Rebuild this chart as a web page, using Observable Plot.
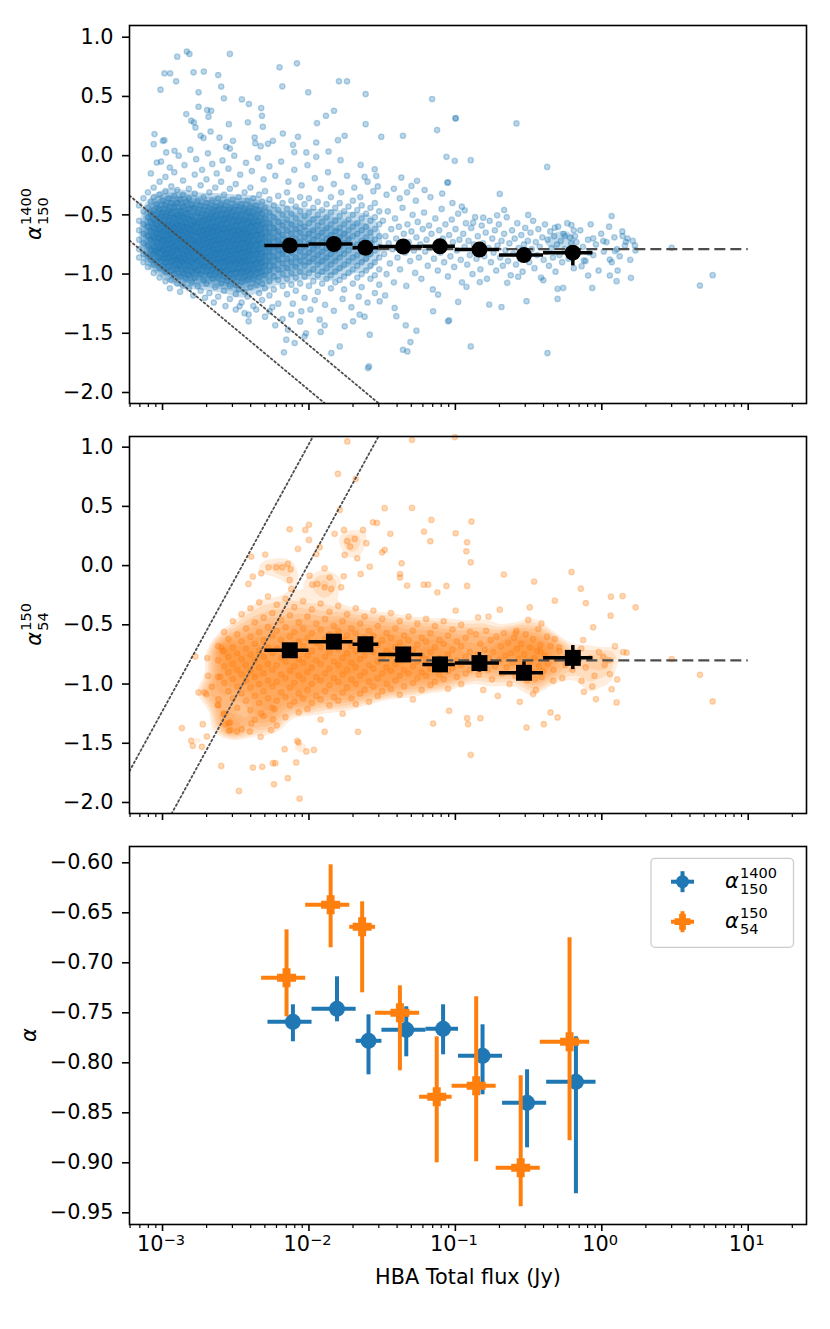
<!DOCTYPE html>
<html><head><meta charset="utf-8">
<script src="https://cdn.jsdelivr.net/npm/d3@7"></script>
<script src="https://cdn.jsdelivr.net/npm/@observablehq/plot@0.6"></script>
<style>
body{margin:0;background:#fff;}
#chart{width:830px;}
#chart svg{display:block;}
</style></head><body><div id="chart"></div>
<script>
// ---------------- DATA ----------------
// binned medians (HBA total flux in Jy)
const binCentre = [0.0074, 0.0148, 0.0243, 0.044, 0.0785, 0.146, 0.294, 0.634];
const binLow    = [0.005, 0.01, 0.02, 0.03, 0.06, 0.1, 0.2, 0.4];
const binHigh   = [0.01, 0.02, 0.03, 0.06, 0.1, 0.2, 0.4, 0.87];
const alpha1400   = [-0.759, -0.746, -0.778, -0.767, -0.766, -0.793, -0.840, -0.819];
const alpha1400Lo = [-0.779, -0.759, -0.812, -0.794, -0.792, -0.832, -0.885, -0.931];
const alpha1400Hi = [-0.742, -0.714, -0.752, -0.744, -0.742, -0.762, -0.807, -0.774];
const alpha150    = [-0.715, -0.642, -0.664, -0.750, -0.834, -0.823, -0.905, -0.779];
const alpha150Lo  = [-0.754, -0.685, -0.730, -0.808, -0.900, -0.899, -0.944, -0.878];
const alpha150Hi  = [-0.667, -0.602, -0.639, -0.723, -0.774, -0.734, -0.813, -0.675];
const medianAlpha1400 = -0.79, medianAlpha150 = -0.80;
const medianFluxRange = [0.03, 10];
const limits1400 = [0.00028, 0.00012];   // Jy at 1400 MHz
const limits54 = [0.0035, 0.0098];       // Jy at 54 MHz
const majorTicks = [1e-3, 1e-2, 1e-1, 1, 10];
const majorExp = ["−3", "−2", "−1", "0", "1"];
const yTicksTop = [-2.0, -1.5, -1.0, -0.5, 0.0, 0.5, 1.0];
const yTicksBottom = [-0.95, -0.90, -0.85, -0.80, -0.75, -0.70, -0.65, -0.60];

// scatter alpha_150^1400 : rows [log10 S, alphas...]
const blueRows = [
[-3.16,[-0.42,-0.55,-0.63,-0.71,-0.79,-0.86]],
[-3.13,[-0.36,-0.47,-0.58,-0.66,-0.74,-0.83,-0.90]],
[-3.10,[-0.31,-0.44,-0.52,-0.60,-0.68,-0.76,-0.85,-0.94]],
[-3.08,[-0.39,-0.49,-0.56,-0.64,-0.71,-0.80,-0.88]],
[-3.06,[-0.27,-0.35,-0.46,-0.54,-0.61,-0.69,-0.77,-0.83,-0.92,-0.99]],
[-3.04,[-0.41,-0.50,-0.58,-0.66,-0.73,-0.81,-0.89]],
[-3.02,[-0.22,-0.33,-0.45,-0.53,-0.62,-0.70,-0.78,-0.86,-0.95,-1.03]],
[-3.00,[-0.38,-0.48,-0.57,-0.64,-0.72,-0.80,-0.87,-0.93]],
[-2.98,[-0.18,-0.30,-0.42,-0.51,-0.59,-0.68,-0.75,-0.83,-0.90,-0.98,-1.06]],
[-2.96,[-0.36,-0.46,-0.55,-0.63,-0.71,-0.79,-0.86,-0.94]],
[-2.94,[-0.26,-0.40,-0.49,-0.58,-0.66,-0.74,-0.82,-0.89,-0.97,-1.05]],
[-2.92,[-0.14,-0.34,-0.44,-0.53,-0.61,-0.69,-0.77,-0.85,-0.92,-1.00]],
[-2.90,[-0.29,-0.40,-0.50,-0.58,-0.65,-0.73,-0.80,-0.88,-0.96,-1.08]],
[-2.88,[-0.37,-0.47,-0.55,-0.63,-0.70,-0.78,-0.86,-0.93,-1.02]],
[-2.86,[-0.21,-0.33,-0.43,-0.52,-0.60,-0.67,-0.75,-0.83,-0.90,-0.99,-1.10]],
[-2.84,[-0.39,-0.49,-0.57,-0.65,-0.72,-0.80,-0.88,-0.96,-1.04]],
[-2.82,[-0.28,-0.36,-0.45,-0.54,-0.62,-0.70,-0.77,-0.85,-0.93,-1.01,-1.12]],
[-2.80,[-0.41,-0.51,-0.59,-0.67,-0.75,-0.82,-0.90,-0.98,-1.07]],
[-2.78,[-0.16,-0.32,-0.44,-0.56,-0.64,-0.72,-0.79,-0.87,-0.95,-1.03]],
[-2.76,[-0.38,-0.48,-0.57,-0.65,-0.73,-0.81,-0.89,-0.97,-1.10]],
[-2.74,[-0.25,-0.42,-0.52,-0.60,-0.68,-0.76,-0.84,-0.92,-1.00,-1.14]],
[-2.72,[-0.35,-0.46,-0.55,-0.63,-0.71,-0.79,-0.86,-0.94,-1.05]],
[-2.70,[-0.20,-0.40,-0.50,-0.58,-0.66,-0.74,-0.82,-0.90,-0.98,-1.08]],
[-2.68,[-0.31,-0.44,-0.53,-0.61,-0.69,-0.77,-0.85,-0.93,-1.01,-1.16]],
[-2.66,[-0.38,-0.48,-0.56,-0.64,-0.72,-0.80,-0.88,-0.96,-1.04]],
[-2.64,[-0.27,-0.43,-0.51,-0.60,-0.68,-0.75,-0.83,-0.91,-0.99,-1.11]],
[-2.62,[-0.36,-0.46,-0.55,-0.63,-0.71,-0.79,-0.87,-0.95,-1.03,-1.19]],
[-2.60,[-0.22,-0.41,-0.50,-0.58,-0.66,-0.74,-0.82,-0.90,-0.98,-1.08]],
[-2.58,[-0.33,-0.45,-0.54,-0.62,-0.70,-0.78,-0.86,-0.94,-1.02,-1.14]],
[-2.56,[-0.39,-0.49,-0.57,-0.65,-0.73,-0.81,-0.89,-0.97,-1.06]],
[-2.54,[-0.28,-0.44,-0.52,-0.61,-0.69,-0.77,-0.84,-0.92,-1.00,-1.10,-1.21]],
[-2.52,[-0.37,-0.47,-0.56,-0.64,-0.72,-0.80,-0.88,-0.96,-1.04]],
[-2.50,[-0.24,-0.42,-0.51,-0.59,-0.67,-0.75,-0.83,-0.91,-0.99,-1.09,-1.17]],
[-2.48,[-0.35,-0.46,-0.55,-0.63,-0.71,-0.79,-0.87,-0.95,-1.03,-1.13]],
[-2.46,[-0.41,-0.50,-0.58,-0.66,-0.74,-0.82,-0.90,-0.98,-1.07,-1.24]],
[-2.44,[-0.31,-0.45,-0.54,-0.62,-0.70,-0.78,-0.86,-0.94,-1.02,-1.15]],
[-2.42,[-0.38,-0.48,-0.57,-0.65,-0.73,-0.81,-0.89,-0.97,-1.05,-1.19]],
[-2.40,[-0.27,-0.43,-0.52,-0.60,-0.68,-0.76,-0.84,-0.92,-1.00,-1.11]],
[-2.38,[-0.36,-0.47,-0.56,-0.64,-0.72,-0.80,-0.88,-0.96,-1.04,-1.27]],
[-2.36,[-0.42,-0.51,-0.59,-0.67,-0.75,-0.83,-0.91,-0.99,-1.09]],
[-2.34,[-0.33,-0.46,-0.55,-0.63,-0.71,-0.79,-0.87,-0.95,-1.03,-1.16]],
[-2.32,[-0.39,-0.49,-0.58,-0.66,-0.74,-0.82,-0.90,-0.98,-1.08,-1.22]],
[-2.30,[-0.30,-0.44,-0.53,-0.61,-0.69,-0.77,-0.85,-0.93,-1.01,-1.12]],
[-2.27,[-0.37,-0.48,-0.57,-0.65,-0.73,-0.81,-0.89,-0.97,-1.06,-1.18]],
[-2.24,[-0.42,-0.52,-0.61,-0.69,-0.77,-0.85,-0.93,-1.02,-1.13]],
[-2.21,[-0.34,-0.46,-0.56,-0.64,-0.72,-0.80,-0.88,-0.96,-1.05,-1.25]],
[-2.18,[-0.40,-0.50,-0.59,-0.67,-0.75,-0.83,-0.91,-1.00,-1.10]],
[-2.15,[-0.31,-0.45,-0.54,-0.63,-0.71,-0.79,-0.87,-0.95,-1.04,-1.17]],
[-2.12,[-0.38,-0.49,-0.58,-0.66,-0.74,-0.82,-0.90,-0.99,-1.09]],
[-2.09,[-0.43,-0.53,-0.62,-0.70,-0.78,-0.86,-0.94,-1.03,-1.14]],
[-2.06,[-0.35,-0.47,-0.57,-0.65,-0.73,-0.81,-0.89,-0.98,-1.08]],
[-2.03,[-0.41,-0.51,-0.60,-0.69,-0.77,-0.85,-0.93,-1.02,-1.20]],
[-2.00,[-0.36,-0.48,-0.57,-0.66,-0.74,-0.82,-0.90,-0.99,-1.10]],
[-1.97,[-0.44,-0.54,-0.63,-0.71,-0.79,-0.87,-0.96,-1.06]],
[-1.94,[-0.39,-0.50,-0.59,-0.68,-0.76,-0.84,-0.92,-1.01,-1.15]],
[-1.91,[-0.46,-0.56,-0.65,-0.73,-0.81,-0.89,-0.98,-1.08]],
[-1.88,[-0.41,-0.52,-0.61,-0.70,-0.78,-0.86,-0.95,-1.04]],
[-1.85,[-0.35,-0.48,-0.58,-0.67,-0.75,-0.83,-0.92,-1.01,-1.12]],
[-1.82,[-0.44,-0.55,-0.64,-0.72,-0.80,-0.89,-0.98,-1.07]],
[-1.79,[-0.40,-0.51,-0.61,-0.69,-0.77,-0.86,-0.95,-1.05]],
[-1.76,[-0.47,-0.58,-0.66,-0.74,-0.83,-0.92,-1.02,-1.13]],
[-1.73,[-0.43,-0.54,-0.63,-0.71,-0.80,-0.89,-0.99]],
[-1.70,[-0.38,-0.50,-0.60,-0.68,-0.77,-0.86,-0.96,-1.08]],
[-1.67,[-0.46,-0.57,-0.66,-0.75,-0.84,-0.93,-1.03]],
[-1.64,[-0.42,-0.53,-0.63,-0.72,-0.81,-0.90,-1.00,-1.11]],
[-1.61,[-0.49,-0.60,-0.69,-0.78,-0.87,-0.97]],
[-1.58,[-0.44,-0.55,-0.65,-0.74,-0.83,-0.93,-1.04]],
[-1.55,[-0.40,-0.52,-0.62,-0.71,-0.80,-0.90,-1.01]],
[-1.52,[-0.47,-0.58,-0.68,-0.77,-0.86,-0.96,-1.09]]
];
// individual alpha_150^1400 points [log10 S, alpha]
const bluePoints = [
[-2.900,0.836],[-2.834,0.879],[-2.816,0.859],[-2.540,0.859],[-2.987,0.695],[-2.948,0.695],[-3.014,0.557],[-2.907,0.628],[-2.788,0.704],[-2.718,0.710],[-2.620,0.681],[-2.599,0.583],[-2.754,0.535],[-2.581,0.484],[-2.458,0.475],[-2.410,0.436],[-2.838,0.351],[-2.754,0.413],[-2.695,0.385],[-2.668,0.379],[-2.686,0.329],[-2.804,0.295],[-2.775,0.238],[-2.786,0.281],[-2.326,0.402],[-2.321,0.337],[-2.417,0.281],[-2.547,0.266],[-2.201,0.746],[-2.082,0.780],[-2.182,0.585],[-2.005,0.535],[-1.795,0.628],[-1.740,0.628],[-1.613,0.520],[-1.829,0.379],[-1.884,0.337],[-1.945,0.275],[-1.613,0.266],[-1.159,0.478],[-1.000,0.314],[-1.125,0.216],[-1.506,0.159],[-1.358,0.168],[-1.756,0.168],[-1.802,0.131],[-2.075,0.159],[-2.178,0.187],[-2.315,0.244],[-3.055,0.182],[-3.060,0.097],[-2.998,0.125],[-2.987,0.131],[-2.918,0.041],[-2.975,0.027],[-3.039,-0.058],[-2.740,0.168],[-2.720,0.150],[-2.672,0.204],[-2.611,0.153],[-2.565,0.075],[-2.540,0.060],[-2.519,0.125],[-2.371,0.153],[-2.367,0.105],[-2.330,0.080],[-2.246,0.125],[-2.280,0.100],[-2.109,0.091],[-2.100,0.030],[-2.018,0.027],[-1.950,-0.010],[-1.866,0.035],[-1.784,-0.038],[-1.950,0.111],[-1.647,-0.078],[-1.551,-0.115],[-1.540,-0.171],[-1.620,-0.180],[-1.061,-0.010],[-1.004,-0.044],[-0.895,-0.038],[-1.369,-0.185],[-1.300,-0.256],[-1.262,-0.213],[-1.055,-0.228],[-0.997,0.317],[-0.583,0.272],[-0.373,-0.095],[-1.050,-0.225],[-0.697,-0.323],[0.067,-0.510],
[-3.08,-0.15],[-3.01,-0.05],[-2.95,-0.10],[-2.89,0.00],[-2.85,-0.08],[-2.81,0.05],[-2.77,-0.03],[-2.73,-0.12],[-2.69,0.02],[-2.66,-0.07],[-2.63,-0.15],[-2.59,-0.04],[-2.55,-0.11],[-2.51,0.00],[-2.47,-0.16],[-2.43,-0.06],[-2.39,-0.13],[-2.35,-0.02],[-2.31,-0.20],[-2.27,-0.09],[-2.23,-0.17],[-2.19,-0.05],[-2.14,-0.22],[-2.10,-0.12],[-2.05,-0.25],[-2.01,-0.08],[-1.96,-0.19],[-1.92,-0.28],[-1.87,-0.14],[-1.83,-0.24],[-1.78,-0.31],[-1.74,-0.17],[-1.69,-0.27],[-1.65,-0.35],[-1.60,-0.22],[-1.56,-0.30],[-1.53,-0.26],[-1.47,-0.33],[-1.42,-0.28],[-1.38,-0.36],[-1.33,-0.31],[-1.27,-0.38],[-1.21,-0.29],[-1.17,-0.35],[-1.09,-0.32],[-1.02,-0.40],
[-2.412,-1.342],[-2.412,-1.399],[-2.474,-1.272],[-2.269,-1.314],[-2.230,-1.433],[-2.171,-1.661],[-2.155,-1.554],[-2.098,-1.582],[-2.030,-1.526],[-2.020,-1.500],[-2.144,-1.469],[-2.121,-1.342],[-2.052,-1.314],[-1.927,-1.385],[-1.893,-1.433],[-1.920,-1.489],[-1.847,-1.667],[-1.790,-1.611],[-1.756,-1.441],[-1.699,-1.399],[-1.654,-1.342],[-1.620,-1.360],[-1.585,-1.512],[-1.597,-1.794],[-1.590,-1.780],[-1.415,-1.286],[-1.403,-1.356],[-1.339,-1.433],[-1.307,-1.574],[-1.358,-1.639],[-1.328,-1.653],[-1.266,-1.478],[-1.152,-1.314],[-1.050,-1.399],[-0.895,-1.611],[-1.517,-1.230],[-1.480,-1.180],[-0.371,-1.667],[-1.043,-1.390],[-1.118,-1.173],[-0.981,-1.235],[-0.769,-1.258],[-0.685,-1.278],[-0.514,-1.229],[-0.302,-1.210],[-0.302,-1.125],[-0.264,-1.117],[-0.065,-1.117],[0.101,-1.060],[0.199,-1.032],[0.108,-0.970],[0.055,-1.012],[-0.093,-1.012],[-0.400,-1.052],[-0.571,-1.023],[-0.646,-1.074],[-0.833,-1.068],[-0.924,-1.108],[0.670,-1.097],[0.757,-1.009],[0.477,-0.778],
[-2.95,-1.12],[-2.88,-1.15],[-2.79,-1.18],[-2.71,-1.20],[-2.65,-1.24],[-2.57,-1.27],[-2.50,-1.30],[-2.44,-1.33],[-2.36,-1.30],[-2.30,-1.36],[-2.25,-1.28],[-2.18,-1.38],[-2.11,-1.25],[-2.06,-1.40],[-1.99,-1.30],[-1.96,-1.22],[-1.89,-1.26],[-1.83,-1.31],[-1.77,-1.21],[-1.71,-1.28],[-1.66,-1.19],[-1.60,-1.24],[-1.55,-1.16],
[-0.503,-0.501],[-0.667,-0.459],[-0.715,-0.504],[-0.810,-0.524],[-0.879,-0.566],[-0.936,-0.462],[-0.956,-0.431],[-0.321,-0.608],[-0.207,-0.586],[-0.191,-0.631],[-0.059,-0.699],[0.010,-0.721],[0.142,-0.679],[0.165,-0.727],[0.226,-0.758],[0.055,-0.877],[0.090,-0.806],[-0.086,-0.820],[-0.138,-0.933],[-0.122,-0.885],[-0.218,-0.693],[-0.173,-0.730],[-0.252,-0.679],
[-1.495,-0.55],[-1.487,-0.83],[-1.478,-0.68],[-1.470,-1.00],[-1.462,-0.47],[-1.455,-0.74],[-1.447,-0.91],[-1.438,-0.62],[-1.429,-0.79],[-1.420,-1.07],[-1.412,-0.53],[-1.404,-0.70],[-1.395,-0.86],[-1.386,-0.60],[-1.378,-0.96],[-1.370,-0.76],[-1.361,-0.44],[-1.352,-0.66],[-1.343,-0.82],[-1.335,-1.10],[-1.327,-0.58],[-1.318,-0.73],[-1.309,-0.89],[-1.300,-0.64],[-1.292,-0.50],[-1.283,-0.80],[-1.275,-0.99],[-1.266,-0.69],[-1.257,-0.56],[-1.249,-0.86],[-1.240,-0.75],[-1.232,-1.04],[-1.223,-0.62],[-1.214,-0.48],[-1.206,-0.81],[-1.197,-0.71],[-1.189,-0.93],[-1.180,-0.59],[-1.171,-0.78],[-1.163,-0.66],[-1.154,-1.13],[-1.146,-0.87],[-1.137,-0.53],[-1.128,-0.74],[-1.120,-0.97],[-1.111,-0.63],[-1.103,-0.82],[-1.094,-0.45],[-1.086,-0.70],[-1.077,-0.90],[-1.068,-0.58],[-1.060,-0.77],[-1.051,-1.02],[-1.043,-0.67],[-1.034,-0.85],[-1.025,-0.54],[-1.017,-0.73],[-1.008,-0.94],[-0.999,-0.62],[-0.990,-0.80],[-0.981,-0.49],[-0.972,-0.71],[-0.963,-0.88],[-0.955,-1.07],[-0.946,-0.66],[-0.937,-0.77],[-0.928,-0.57],[-0.919,-0.92],[-0.910,-0.72],[-0.901,-0.84],[-0.892,-0.61],[-0.883,-1.00],[-0.874,-0.75],[-0.865,-0.52],[-0.856,-0.87],[-0.847,-0.68],[-0.838,-0.79],[-0.829,-0.96],[-0.820,-0.59],[-0.811,-0.74],[-0.802,-0.85],[-0.793,-0.65],[-0.784,-1.04],[-0.775,-0.78],[-0.766,-0.55],[-0.757,-0.90],[-0.748,-0.70],[-0.739,-0.82],[-0.730,-0.63],[-0.721,-0.97],[-0.712,-0.76],[-0.703,-0.58],[-0.694,-0.86],[-0.685,-0.72],[-0.676,-0.93],[-0.667,-0.66],[-0.658,-0.80],[-0.649,-0.52],[-0.640,-0.89],[-0.631,-0.74],[-0.622,-1.01],[-0.613,-0.63],[-0.604,-0.83],[-0.595,-0.70],[-0.586,-0.92],[-0.577,-0.57],[-0.568,-0.78],[-0.559,-0.87],[-0.550,-0.67],[-0.541,-0.98],[-0.532,-0.75],[-0.523,-0.61],[-0.514,-0.84],[-0.505,-0.72],[-0.496,-0.90],[-0.487,-0.65],[-0.478,-0.79],[-0.469,-0.55],[-0.460,-0.95],[-0.451,-0.73],[-0.442,-0.84],[-0.433,-0.62],[-0.424,-0.77],[-0.415,-1.03],[-0.406,-0.69],[-0.397,-0.88],[-0.388,-0.58],[-0.379,-0.81],[-0.370,-0.71],[-0.361,-0.93],[-0.352,-0.64],[-0.343,-0.78],[-0.334,-0.86],[-0.325,-0.68],[-0.316,-0.98],[-0.307,-0.75],[-0.298,-0.60],[-0.289,-0.84],[-0.280,-0.72],[-0.271,-0.90],[-0.262,-0.66],[-0.253,-0.79],[-0.236,-0.57],[-0.227,-0.87],[-0.209,-0.74],[-0.191,-0.95],[-0.183,-0.68],[-0.165,-0.82],[-0.147,-0.63],[-0.129,-0.77],[-0.111,-0.89],[-0.094,-0.71],[-0.076,-0.58],[-0.058,-0.84],[-0.040,-0.75],[-0.022,-0.97],[-0.004,-0.66],[0.014,-0.81],[0.032,-0.73],[0.050,-0.60],[0.068,-0.90],[0.086,-0.69],[0.104,-0.79],[0.122,-0.85],[0.140,-0.64],[0.158,-0.76],[0.176,-0.70],[0.194,-0.88],[0.212,-0.72],[0.230,-0.80]
];

// scatter alpha_54^150 : rows [log10 S, alphas...]
const orangeRows = [
[-2.62,[-0.68,-0.80,-0.94,-1.18]],
[-2.58,[-0.56,-0.72,-0.85,-0.99,-1.25]],
[-2.55,[-0.62,-0.77,-0.90,-1.06,-1.33]],
[-2.52,[-0.47,-0.69,-0.83,-0.96,-1.12]],
[-2.49,[-0.58,-0.74,-0.88,-1.02,-1.20]],
[-2.46,[-0.41,-0.64,-0.79,-0.92,-1.08,-1.38]],
[-2.43,[-0.53,-0.70,-0.84,-0.97,-1.14]],
[-2.40,[-0.36,-0.60,-0.75,-0.89,-1.03,-1.22]],
[-2.37,[-0.48,-0.66,-0.80,-0.94,-1.10,-1.30]],
[-2.34,[-0.31,-0.56,-0.72,-0.86,-1.00,-1.16]],
[-2.31,[-0.44,-0.63,-0.77,-0.91,-1.06,-1.27]],
[-2.28,[-0.26,-0.52,-0.69,-0.83,-0.97,-1.12]],
[-2.25,[-0.40,-0.59,-0.74,-0.88,-1.02,-1.20]],
[-2.22,[-0.33,-0.55,-0.70,-0.84,-0.98,-1.14,-1.35]],
[-2.19,[-0.46,-0.63,-0.78,-0.92,-1.07]],
[-2.16,[-0.28,-0.52,-0.67,-0.81,-0.95,-1.11,-1.28]],
[-2.13,[-0.42,-0.60,-0.75,-0.89,-1.03,-1.18]],
[-2.10,[-0.35,-0.56,-0.71,-0.85,-0.99,-1.15]],
[-2.07,[-0.48,-0.64,-0.79,-0.93,-1.08,-1.24]],
[-2.04,[-0.30,-0.53,-0.68,-0.82,-0.96,-1.12]],
[-2.01,[-0.43,-0.61,-0.76,-0.90,-1.05,-1.21]],
[-1.98,[-0.37,-0.57,-0.72,-0.86,-1.00,-1.16]],
[-1.95,[-0.49,-0.65,-0.80,-0.94,-1.10]],
[-1.92,[-0.32,-0.54,-0.69,-0.83,-0.97,-1.13,-1.30]],
[-1.89,[-0.45,-0.62,-0.77,-0.91,-1.06]],
[-1.86,[-0.39,-0.58,-0.73,-0.87,-1.01,-1.18]],
[-1.83,[-0.51,-0.66,-0.81,-0.95,-1.11]],
[-1.80,[-0.34,-0.55,-0.70,-0.84,-0.98,-1.14]],
[-1.77,[-0.47,-0.63,-0.78,-0.92,-1.07,-1.25]],
[-1.74,[-0.41,-0.59,-0.74,-0.88,-1.03]],
[-1.71,[-0.53,-0.68,-0.82,-0.96,-1.12]],
[-1.68,[-0.36,-0.57,-0.72,-0.86,-1.00,-1.17]],
[-1.65,[-0.49,-0.65,-0.79,-0.93,-1.08]],
[-1.62,[-0.43,-0.61,-0.76,-0.90,-1.05]],
[-1.59,[-0.55,-0.70,-0.84,-0.98,-1.15]],
[-1.56,[-0.38,-0.59,-0.73,-0.87,-1.02]],
[-1.53,[-0.51,-0.67,-0.81,-0.95,-1.10]],
[-1.50,[-0.45,-0.63,-0.77,-0.91,-1.06]],
[-1.47,[-0.57,-0.72,-0.86,-1.00]],
[-1.44,[-0.40,-0.61,-0.75,-0.89,-1.04]],
[-1.41,[-0.53,-0.69,-0.83,-0.97]],
[-1.38,[-0.47,-0.65,-0.79,-0.93,-1.09]],
[-1.35,[-0.59,-0.74,-0.88,-1.02]],
[-1.32,[-0.43,-0.63,-0.77,-0.91]],
[-1.29,[-0.55,-0.71,-0.85,-0.99,-1.13]],
[-1.26,[-0.49,-0.67,-0.81,-0.95]],
[-1.23,[-0.61,-0.76,-0.90,-1.05]],
[-1.20,[-0.45,-0.64,-0.79,-0.93]],
[-1.17,[-0.57,-0.73,-0.87,-1.01]],
[-1.14,[-0.51,-0.69,-0.84,-0.98]],
[-1.11,[-0.63,-0.78,-0.92]],
[-1.08,[-0.47,-0.66,-0.81,-0.96]],
[-1.05,[-0.59,-0.75,-0.89,-1.04]],
[-1.02,[-0.54,-0.71,-0.86]],
[-0.99,[-0.64,-0.80,-0.94]],
[-0.96,[-0.50,-0.68,-0.84,-1.00]],
[-0.93,[-0.61,-0.77,-0.91]],
[-0.90,[-0.56,-0.73,-0.88]]
];
// individual alpha_54^150 points [log10 S, alpha]
const orangePoints = [
[-2.868,-1.372],[-2.804,-1.479],[-2.793,-1.522],[-2.731,-1.530],[-2.725,-1.339],[-2.697,-1.443],[-2.599,-1.691],[-2.754,-1.071],[-2.713,-1.071],[-2.700,-1.085],[-2.690,-0.930],[-2.663,-1.023],[-2.777,-0.767],[-2.695,-0.781],[-2.606,-0.939],[-2.599,-0.690],[-2.592,-0.720],[-2.622,-1.175],[-2.618,-1.130],[-2.581,-1.254],[-2.572,-1.339],[-2.535,-1.389],[-2.548,-1.395],[-2.540,-1.325],[-2.492,-1.401],[-2.478,-1.902],[-2.383,-1.705],[-2.319,-1.699],[-2.246,-1.668],[-2.230,-1.668],[-2.239,-1.846],[-2.166,-1.550],[-2.144,-1.795],[-2.087,-1.662],[-2.080,-1.480],[-2.071,-1.494],[-2.018,-1.569],[-1.966,-1.556],[-2.064,-1.967],[-1.893,-1.403],[-1.665,-1.403],[-2.258,-1.389],[-2.330,-1.446],[-2.403,-1.401],[-2.394,-1.333],[-2.326,-1.248],[-2.246,-1.299],[-2.235,-1.212],
[-1.738,1.048],[-1.802,0.775],[-1.681,0.732],[-1.296,1.062],[-1.004,1.085],[-1.790,0.470],[-1.483,0.485],[-1.296,0.487],[-2.132,0.307],[-2.025,0.301],[-2.000,0.344],[-2.000,0.217],[-2.075,0.141],[-1.927,0.155],[-1.950,0.098],[-1.825,0.268],[-1.761,0.301],[-1.738,0.206],[-1.718,0.161],[-1.688,0.225],[-1.631,0.301],[-1.608,0.189],[-1.563,0.366],[-1.536,0.360],[-1.444,0.268],[-1.483,0.132],[-1.501,0.112],[-1.670,0.062],[-1.756,0.090],[-1.585,-0.009],[-1.647,-0.071],[-1.367,0.020],[-1.378,-0.071],[-1.378,-0.100],[-1.164,0.386],[-1.214,0.287],[-1.171,0.206],[-0.998,0.273],[-0.890,0.372],[-0.920,0.197],[-0.925,0.121],[-0.895,0.028],[-1.216,-0.161],[-1.186,-0.161],[-1.123,-0.226],[-1.061,-0.172],[-0.998,-0.380],[-0.920,-0.172],[-1.330,-0.169],[-2.394,0.076],[-2.299,0.093],[-2.276,-0.014],[-2.223,-0.014],[-2.182,-0.014],[-2.144,0.014],[-2.125,-0.030],[-2.326,-0.065],[-2.383,-0.093],[-2.413,-0.155],[-2.132,-0.121],[-2.121,-0.197],[-1.893,-0.023],[-1.859,-0.099],[-1.763,-0.090],[-1.996,-0.085],[-1.977,-0.161],[-1.943,-0.155],[-1.893,-0.183],[-1.848,-0.197],[-1.780,-0.183],
[-0.669,-0.076],[-0.462,-0.135],[-0.207,-0.054],[-0.143,-0.195],[-0.109,-0.316],[0.062,-0.262],[0.142,-0.257],[0.231,-0.352],[0.060,-0.423],[-0.321,-0.296],[-0.492,-0.352],[-0.503,-0.459],[-0.412,-0.488],[-0.434,-0.536],[-0.583,-0.550],[-0.588,-0.570],[-0.697,-0.372],[-0.774,-0.431],[-0.845,-0.437],[-0.373,-0.600],[-0.321,-0.620],[-0.127,-0.628],[-0.059,-0.521],[-0.291,-0.691],[-0.419,-0.724],[0.147,-0.730],[0.170,-0.735],[0.010,-0.769],[0.477,-0.789],[0.670,-0.922],[0.757,-1.147],[0.055,-0.916],[0.105,-0.961],[0.067,-1.043],[0.101,-1.155],[-0.040,-1.127],[-0.065,-1.020],[-0.122,-1.065],[-0.138,-0.972],[-0.332,-0.972],[-0.400,-0.888],[-0.457,-0.958],[-0.469,-1.085],[-0.396,-1.339],[-0.350,-1.240],[-0.302,-1.282],[-0.514,-1.367],[-0.895,-1.598],[-0.829,-1.288],[-0.920,-1.288],[-0.913,-1.339],[-1.043,-1.226],[-1.152,-1.333],
[-0.86,-0.58],[-0.85,-0.75],[-0.84,-0.92],[-0.83,-0.66],[-0.82,-0.83],[-0.81,-1.05],[-0.80,-0.71],[-0.79,-0.55],[-0.78,-0.88],[-0.77,-0.78],[-0.76,-0.63],[-0.75,-0.96],[-0.74,-0.73],[-0.73,-0.85],[-0.72,-0.60],[-0.71,-1.10],[-0.70,-0.80],[-0.69,-0.68],[-0.68,-0.91],[-0.67,-0.57],[-0.66,-0.76],[-0.65,-0.86],[-0.64,-0.65],[-0.63,-1.00],[-0.62,-0.74],[-0.61,-0.82],[-0.60,-0.61],[-0.59,-0.93],[-0.58,-0.70],[-0.57,-0.79],[-0.56,-1.15],[-0.55,-0.66],[-0.54,-0.87],[-0.53,-0.75],[-0.52,-0.58],[-0.51,-0.97],[-0.50,-0.81],[-0.49,-0.69],[-0.48,-0.90],[-0.47,-0.62],[-0.46,-0.78],[-0.45,-1.05],[-0.44,-0.72],[-0.43,-0.85],[-0.42,-0.67],[-0.41,-0.94],[-0.39,-0.76],[-0.37,-0.83],[-0.35,-0.68],[-0.33,-0.88],[-0.31,-0.79],[-0.29,-0.72],[-0.27,-0.95],[-0.25,-0.84],[-0.22,-0.74],[-0.20,-0.88],[-0.17,-0.80],[-0.14,-0.70],[-0.11,-0.86],[-0.08,-0.78],[-0.05,-0.93],[-0.02,-0.73],[0.02,-0.84],[0.05,-0.80],[0.09,-0.68]
];

// ---------------- BUILD ----------------
const blue = "#1f77b4", orange = "#ff7f0e", refGrey = "#4d4d4d";
const FONT = "'DejaVu Sans', 'Liberation Sans', sans-serif";
const FS = 20.8;
const W = 830, ML = 129, MR = 24;
const xDomain = [Math.pow(10, -3.2256), Math.pow(10, 1.398)];
const minorTicks = [];
for (let k = -4; k <= 1; k++) for (let m = 2; m <= 9; m++) {
  const v = m * Math.pow(10, k);
  if (v > xDomain[0] && v < xDomain[1]) minorTicks.push(v);
}
const toPts = (rows, pts) => [
  ...rows.flatMap(([l, as]) => as.map(a => ({S: Math.pow(10, l), a}))),
  ...pts.map(([l, a]) => ({S: Math.pow(10, l), a}))
];
const blueData = toPts(blueRows, bluePoints);
const orangeData = toPts(orangeRows, orangePoints);
const bins1400 = binCentre.map((S, i) => ({S, lo: binLow[i], hi: binHigh[i], a: alpha1400[i], aLo: alpha1400Lo[i], aHi: alpha1400Hi[i]}));
const bins150 = binCentre.map((S, i) => ({S, lo: binLow[i], hi: binHigh[i], a: alpha150[i], aLo: alpha150Lo[i], aHi: alpha150Hi[i]}));

const lim1400Lines = limits1400.map(L => xDomain.map(S => ({S, a: Math.log10(L / S) / Math.log10(1400 / 150)})));
const lim54Lines = limits54.map(L => xDomain.map(S => ({S, a: Math.log10(S / L) / Math.log10(150 / 54)})));

const plusFilled = {
  draw(context, size) {
    const r = Math.sqrt(size / Math.PI), w = r * 0.42;
    context.moveTo(-w, -r); context.lineTo(w, -r); context.lineTo(w, -w); context.lineTo(r, -w);
    context.lineTo(r, w); context.lineTo(w, w); context.lineTo(w, r); context.lineTo(-w, r);
    context.lineTo(-w, w); context.lineTo(-r, w); context.lineTo(-r, -w); context.lineTo(-w, -w);
    context.closePath();
  }
};

const style = {fontFamily: FONT, fontSize: FS + "px", background: "white", color: "black", overflow: "visible"};
function xAxisMarks() {
  return [
    Plot.axisX({ticks: majorTicks, tickSize: 7, tickFormat: () => "", strokeWidth: 1.6, label: null, anchor: "bottom"}),
    Plot.axisX({ticks: minorTicks, tickSize: 4, tickFormat: () => "", strokeWidth: 1.2, label: null, anchor: "bottom"})
  ];
}
function yAxisMark(ticks, fmt) {
  return Plot.axisY({ticks, tickSize: 7, tickPadding: 9, tickFormat: d3.format(fmt), strokeWidth: 1.6, label: null, anchor: "left"});
}
// shading of crowded regions: low density levels transparent, upper levels stacked
const densityColor = (rgb, cut, a) => t => t < cut ? `rgba(${rgb},0)` : `rgba(${rgb},${a})`;

function scatterPanel(o) {
  return Plot.plot({
    width: W, height: o.height, marginLeft: ML, marginRight: MR, marginTop: o.mt, marginBottom: o.mb,
    style,
    x: {type: "log", domain: xDomain},
    y: {domain: o.yDomain},
    color: {type: "linear", interpolate: densityColor(o.rgb, o.cut, o.levelAlpha)},
    marks: [
      Plot.density(o.data, {x: "S", y: "a", bandwidth: 8, thresholds: 14, fill: "density", stroke: "none"}),
      Plot.dot(o.data, {x: "S", y: "a", r: 2.7, fill: o.color, fillOpacity: 0.3, stroke: o.color, strokeOpacity: 0.3, strokeWidth: 1.3}),
      ...o.lines.map(l => Plot.line(l, {x: "S", y: "a", stroke: refGrey, strokeWidth: 1.8, strokeDasharray: "1.8,2.8", clip: true})),
      Plot.ruleY([o.median], {x1: medianFluxRange[0], x2: medianFluxRange[1], stroke: refGrey, strokeWidth: 2.2, strokeDasharray: "11,5"}),
      Plot.ruleY(o.bins, {y: "a", x1: "lo", x2: "hi", stroke: "black", strokeWidth: 3.5}),
      Plot.ruleX(o.bins, {x: "S", y1: "aLo", y2: "aHi", stroke: "black", strokeWidth: 3.5}),
      Plot.dot(o.bins, {x: "S", y: "a", r: o.r, symbol: o.symbol, fill: "black", stroke: "none"}),
      Plot.frame({strokeWidth: 1.6}),
      yAxisMark(yTicksTop, ".1f"),
      ...xAxisMarks()
    ]
  });
}

const p1 = scatterPanel({data: blueData, color: blue, rgb: "31,119,180", cut: 0.45, levelAlpha: 0.26,
  lines: lim1400Lines, median: medianAlpha1400, bins: bins1400, symbol: "circle", r: 8,
  yDomain: [-2.093, 1.099], height: 420, mt: 25, mb: 17});
const p2 = scatterPanel({data: orangeData, color: orange, rgb: "255,127,14", cut: 0.35, levelAlpha: 0.14,
  lines: lim54Lines, median: medianAlpha150, bins: bins150, symbol: "square", r: 9,
  yDomain: [-2.093, 1.090], height: 411, mt: 16, mb: 18});

const shiftB = 1.05, shiftO = 0.95;
const tickLabelMarks = majorTicks.flatMap((t, i) => {
  const e = majorExp[i];
  const d = e.length > 1 ? 1 : 7;
  return [
    Plot.text([t], {x: d => d, text: () => "10", frameAnchor: "bottom", textAnchor: "end", dx: d, dy: 26, fontSize: FS}),
    Plot.text([t], {x: d => d, text: () => e, frameAnchor: "bottom", textAnchor: "start", dx: d, dy: 20, fontSize: 14.6})
  ];
});
const p3 = Plot.plot({
  width: W, height: 498, marginLeft: ML, marginRight: MR, marginTop: 15, marginBottom: 105,
  style,
  x: {type: "log", domain: xDomain},
  y: {domain: [-0.9617, -0.5837]},
  marks: [
    Plot.ruleY(bins1400, {y: "a", x1: d => d.lo * shiftB, x2: d => d.hi * shiftB, stroke: blue, strokeWidth: 4}),
    Plot.ruleX(bins1400, {x: d => d.S * shiftB, y1: "aLo", y2: "aHi", stroke: blue, strokeWidth: 4}),
    Plot.dot(bins1400, {x: d => d.S * shiftB, y: "a", r: 8, fill: blue, stroke: "none"}),
    Plot.ruleY(bins150, {y: "a", x1: d => d.lo * shiftO, x2: d => d.hi * shiftO, stroke: orange, strokeWidth: 4}),
    Plot.ruleX(bins150, {x: d => d.S * shiftO, y1: "aLo", y2: "aHi", stroke: orange, strokeWidth: 4}),
    Plot.dot(bins150, {x: d => d.S * shiftO, y: "a", r: 9.5, symbol: plusFilled, fill: orange, stroke: "none"}),
    Plot.frame({strokeWidth: 1.6}),
    yAxisMark(yTicksBottom, ".2f"),
    ...xAxisMarks(),
    ...tickLabelMarks,
    Plot.text(["HBA Total flux (Jy)"], {frameAnchor: "bottom", dy: 59, fontSize: FS})
  ]
});

const chart = document.getElementById("chart");
chart.append(p1, p2, p3);

// math labels
function mathLabel(svg, {x, y, rotate = 0, sup, sub, supW, subW, centred = true}) {
  const g = d3.select(svg).append("g")
    .attr("transform", `translate(${x},${y}) rotate(${rotate})`)
    .attr("font-family", FONT).attr("fill", "black").attr("text-anchor", "start");
  const aW = 14;
  const total = aW + 1 + Math.max(supW || 0, subW || 0);
  const x0 = centred ? -total / 2 : 0;
  g.append("text").attr("x", sup ? x0 : 0).attr("y", 0).attr("font-size", 21)
    .attr("font-style", "italic").attr("text-anchor", sup ? "start" : "middle").text("α");
  if (sup) {
    g.append("text").attr("x", x0 + aW + 1).attr("y", -10).attr("font-size", 14.5).attr("text-anchor", "start").text(sup);
    g.append("text").attr("x", x0 + aW + 1).attr("y", 6.5).attr("font-size", 14.5).attr("text-anchor", "start").text(sub);
  }
  return g;
}
mathLabel(p1, {x: 41, y: 214, rotate: -90, sup: "1400", sub: "150", supW: 37, subW: 27.7});
mathLabel(p2, {x: 41, y: 204.4, rotate: -90, sup: "150", sub: "54", supW: 27.7, subW: 18.5});
mathLabel(p3, {x: 36, y: 204, rotate: -90});

// legend (bottom panel)
const lg = d3.select(p3).append("g");
lg.append("rect").attr("x", 651).attr("y", 27.3).attr("width", 142.5).attr("height", 89)
  .attr("rx", 4).attr("fill", "white").attr("fill-opacity", 0.8).attr("stroke", "#cccccc").attr("stroke-width", 1.3);
const legendItems = [
  {color: blue, cy: 50.7, sup: "1400", sub: "150", base: 56.7, shape: "circle"},
  {color: orange, cy: 90.7, sup: "150", sub: "54", base: 96.5, shape: "plus"}
];
legendItems.forEach(it => {
  lg.append("line").attr("x1", 671).attr("x2", 694).attr("y1", it.cy).attr("y2", it.cy).attr("stroke", it.color).attr("stroke-width", 4);
  lg.append("line").attr("x1", 682.5).attr("x2", 682.5).attr("y1", it.cy - 10.5).attr("y2", it.cy + 10.5).attr("stroke", it.color).attr("stroke-width", 4);
  if (it.shape === "circle") lg.append("circle").attr("cx", 682.5).attr("cy", it.cy).attr("r", 6.5).attr("fill", it.color);
  else lg.append("path").attr("transform", `translate(682.5,${it.cy})`).attr("d", d3.symbol(plusFilled, Math.PI * 8 * 8)()).attr("fill", it.color);
  mathLabel(p3, {x: 725, y: it.base, sup: it.sup, sub: it.sub, supW: 37, subW: 27.7, centred: false});
});
</script></body></html>
